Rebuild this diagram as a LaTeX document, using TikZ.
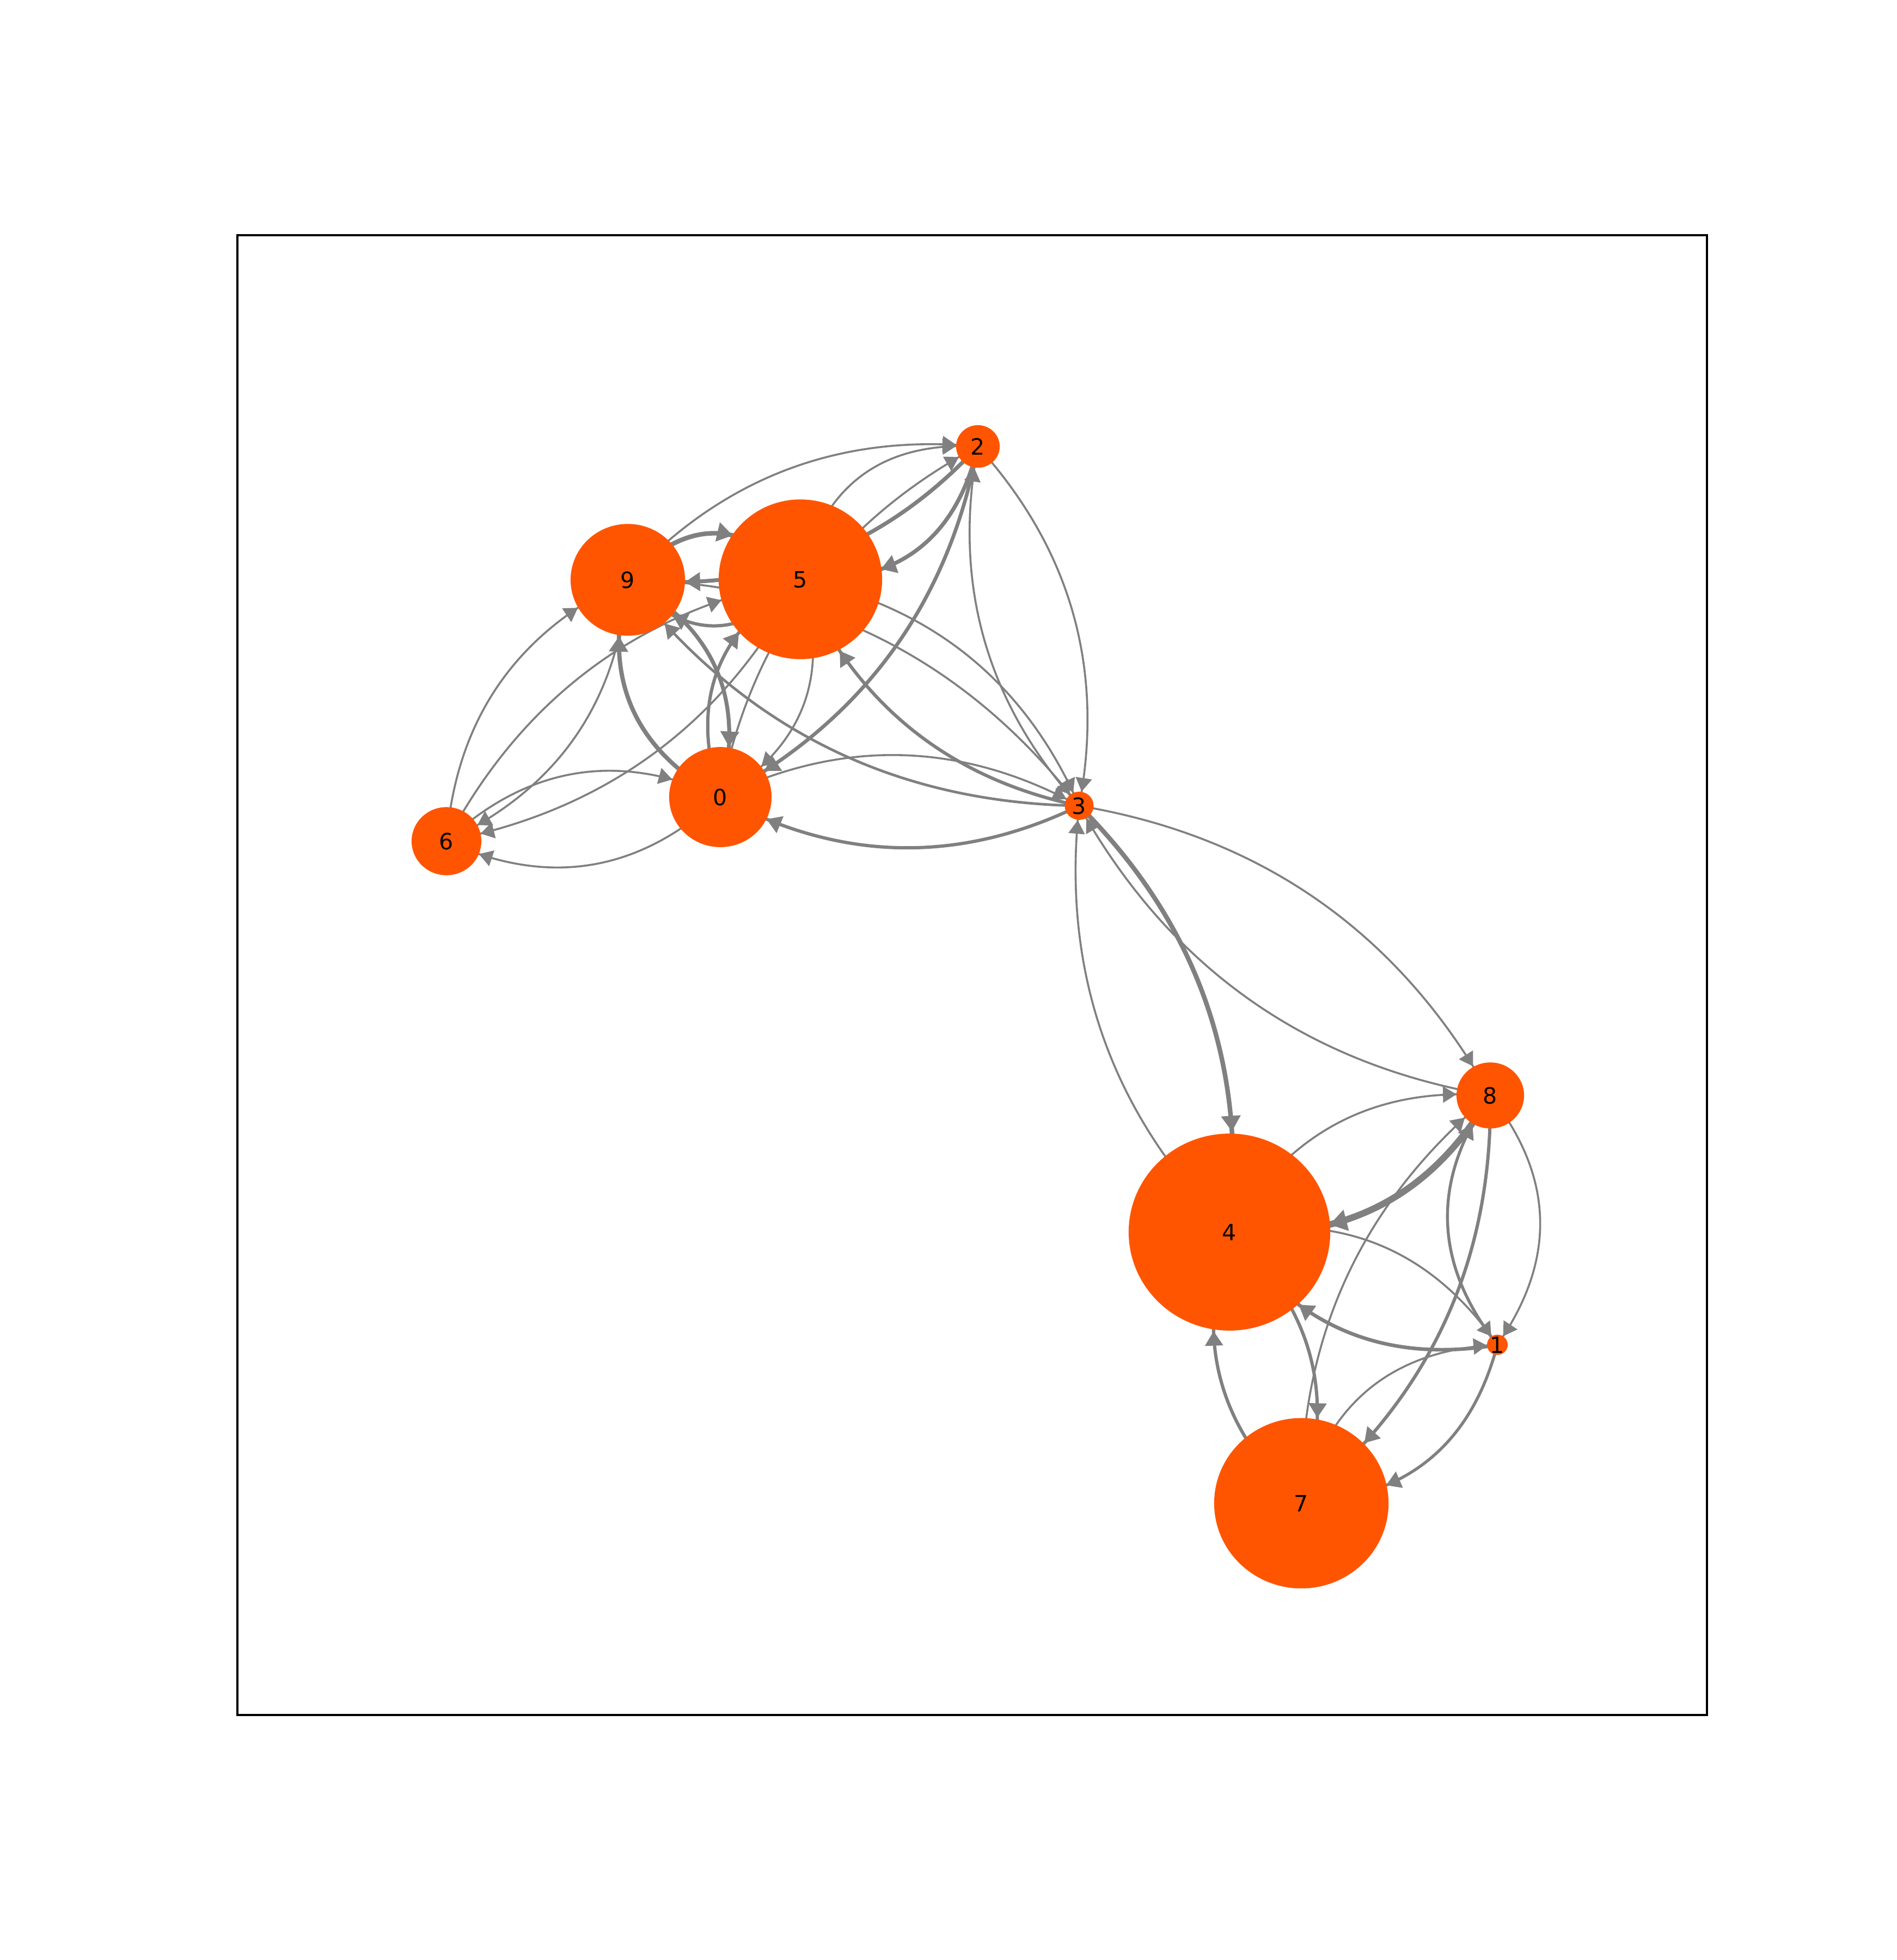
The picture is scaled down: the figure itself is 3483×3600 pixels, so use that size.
\documentclass[tikz,border=0pt]{standalone}
\usepackage{fontspec}
\newfontfamily\labelfont{DejaVu Sans}
\usetikzlibrary{arrows.meta, calc, shapes.geometric, decorations.markings}
\pgfdeclarelayer{paper}
\pgfdeclarelayer{links}
\pgfsetlayers{paper,links,main}
\definecolor{nodeor}{RGB}{255,85,0}
\definecolor{linkgray}{RGB}{128,128,128}

% one pixel of the drawing, in pt
\newcommand\pxu{0.28453}
% overall stroke scale for the links
\newcommand\wscale{1.2}

% node radii in pixels
\newcommand\setrad[2]{\expandafter\def\csname rad@#1\endcsname{#2}}
\setrad{n0}{94}\setrad{n1}{19}\setrad{n2}{40}\setrad{n3}{26.5}\setrad{n4}{185}
\setrad{n5}{150}\setrad{n6}{64}\setrad{n7}{160}\setrad{n8}{62}\setrad{n9}{105}

\tikzset{
  vert/.style={ellipse, fill=nodeor, draw=none, inner sep=0pt, outer sep=0pt,
    minimum width=#1*0.02cm, minimum height=#1*0.01954cm,
    font=\labelfont\fontsize{11.7}{14}\selectfont},
}
\newcommand\nlab[1]{\makebox[0pt]{\raisebox{-0.5\height}[0pt][0pt]{#1}}}

% curved directed link: source, target, width (px); bends to the left of travel
\newcommand\link[3]{%
  \pgfpointdiff{\pgfpointanchor{#1}{center}}{\pgfpointanchor{#2}{center}}%
  \pgfgetlastxy{\ldx}{\ldy}%
  \pgfmathsetmacro\bendh{max(170*\pxu, 0.24*veclen(\ldx,\ldy))}%
  \pgfmathsetmacro\arrpos{-(\csname rad@#2\endcsname)*\pxu}%
  \pgfmathsetmacro\lw{#3*\wscale}%
  \pgfmathsetmacro\alen{(22+0.8*\lw)*\pxu}%
  \pgfmathsetmacro\awid{(26+1.0*\lw)*\pxu}%
  \path coordinate (q) at ($(#1.center)!0.5!(#2.center)!\bendh pt!90:(#2.center)$);
  \draw[linkgray, line width=\lw*\pxu pt, line cap=round,
    postaction={decorate, decoration={markings,
      mark=at position \arrpos pt with {\arrow{Triangle[length=\alen pt, width=\awid pt]}}}}]
    (#1.center) .. controls ($(#1.center)!2/3!(q)$) and ($(#2.center)!2/3!(q)$) .. (#2.center);
}

\begin{document}
\begin{tikzpicture}[x=0.01cm, y=-0.01cm]
\begin{pgfonlayer}{paper}
  \fill[white] (0,0) rectangle (3483,3600);
\end{pgfonlayer}
\useasboundingbox (0,0) rectangle (3483,3600);

% axes frame
\draw[black, line width=3.3*\pxu pt] (436,432) rectangle (3135,3150);

% vertices
\node[vert=94]  (n0) at (1323,1464) {\nlab{0}};
\node[vert=19]  (n1) at (2750,2470) {\nlab{1}};
\node[vert=40]  (n2) at (1796,820)  {\nlab{2}};
\node[vert=26.5](n3) at (1982,1480) {\nlab{3}};
\node[vert=185] (n4) at (2258,2263) {\nlab{4}};
\node[vert=150] (n5) at (1470,1064) {\nlab{5}};
\node[vert=64]  (n6) at (820,1545)  {\nlab{6}};
\node[vert=160] (n7) at (2390,2761) {\nlab{7}};
\node[vert=62]  (n8) at (2737,2012) {\nlab{8}};
\node[vert=105] (n9) at (1153,1065) {\nlab{9}};

\begin{pgfonlayer}{links}
\link{n0}{n2}{3}
\link{n2}{n0}{5.5}
\link{n0}{n3}{3}
\link{n3}{n0}{5}
\link{n0}{n5}{5}
\link{n5}{n0}{3}
\link{n0}{n6}{3}
\link{n6}{n0}{3}
\link{n0}{n9}{6.5}
\link{n9}{n0}{6}
\link{n1}{n4}{5.5}
\link{n4}{n1}{3}
\link{n1}{n7}{4.5}
\link{n7}{n1}{3}
\link{n1}{n8}{4.5}
\link{n8}{n1}{3}
\link{n2}{n3}{3}
\link{n3}{n2}{3}
\link{n2}{n5}{6}
\link{n5}{n2}{3}
\link{n2}{n9}{6}
\link{n9}{n2}{3}
\link{n3}{n4}{7}
\link{n4}{n3}{3}
\link{n3}{n5}{5}
\link{n5}{n3}{3}
\link{n3}{n8}{3}
\link{n8}{n3}{3}
\link{n3}{n9}{4}
\link{n9}{n3}{3}
\link{n4}{n7}{5}
\link{n7}{n4}{5}
\link{n4}{n8}{3}
\link{n8}{n4}{10}
\link{n5}{n6}{3}
\link{n6}{n5}{3}
\link{n5}{n9}{5}
\link{n9}{n5}{7}
\link{n6}{n9}{3}
\link{n9}{n6}{3}
\link{n7}{n8}{3}
\link{n8}{n7}{5}
\end{pgfonlayer}
\end{tikzpicture}
\end{document}
